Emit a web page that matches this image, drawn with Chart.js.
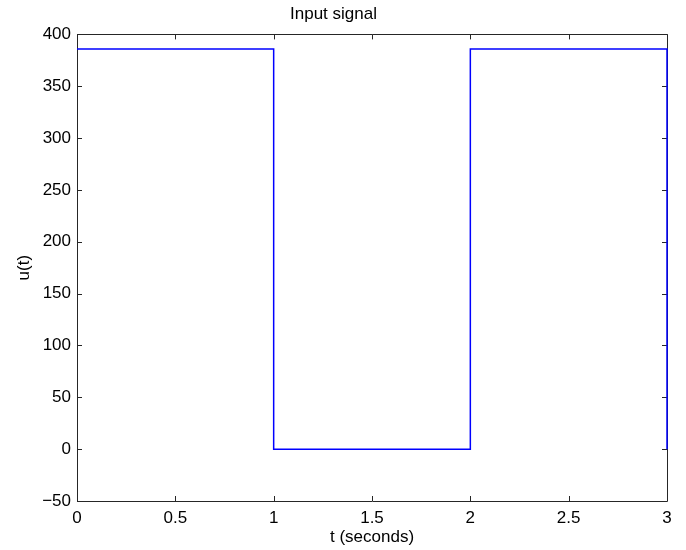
<!DOCTYPE html>
<html>
<head>
<meta charset="utf-8">
<script src="https://cdn.jsdelivr.net/npm/chart.js@4/dist/chart.umd.min.js"></script>
<style>
html,body{margin:0;padding:0;background:#fff;}
#wrap{width:686px;height:550px;position:relative;}
</style>
</head>
<body>
<div id="wrap"><canvas id="c" width="686" height="550"></canvas></div>
<script>
// Data (step signal)
const tValues = [0, 1, 1, 2, 2, 3, 3];
const uValues = [386, 386, 0, 0, 386, 386, 0];
const xTickValues = [0, 0.5, 1, 1.5, 2, 2.5, 3];
const xTickLabels = ['0', '0.5', '1', '1.5', '2', '2.5', '3'];
const yTickValues = [-50, 0, 50, 100, 150, 200, 250, 300, 350, 400];
const yTickLabels = ['\u221250', '0', '50', '100', '150', '200', '250', '300', '350', '400'];

const points = tValues.map((t, i) => ({x: t, y: uValues[i]}));
const FONT = 'Liberation Sans, Arial, Helvetica, sans-serif';
const AX = '#262626';

const boxTicks = {
  id: 'boxTicks',
  beforeDatasetsDraw(chart) {
    const {ctx, chartArea: a, scales: {x, y}} = chart;
    ctx.save();
    ctx.strokeStyle = AX;
    ctx.lineWidth = 1;
    ctx.beginPath();
    ctx.rect(Math.round(a.left) + 0.5, Math.round(a.top) + 0.5, Math.round(a.right - a.left), Math.round(a.bottom - a.top));
    ctx.stroke();
    const L = 5;
    ctx.beginPath();
    xTickValues.forEach(v => {
      const px = Math.round(x.getPixelForValue(v)) + 0.5;
      ctx.moveTo(px, a.bottom); ctx.lineTo(px, a.bottom - L);
      ctx.moveTo(px, a.top); ctx.lineTo(px, a.top + L);
    });
    yTickValues.forEach(v => {
      const py = Math.round(y.getPixelForValue(v)) + 0.5;
      ctx.moveTo(a.left, py); ctx.lineTo(a.left + L, py);
      ctx.moveTo(a.right, py); ctx.lineTo(a.right - L, py);
    });
    ctx.stroke();
    ctx.restore();
  }
};

new Chart(document.getElementById('c'), {
  type: 'scatter',
  data: {
    datasets: [{
      data: points,
      showLine: true,
      borderColor: '#0000ff',
      borderWidth: 1.5,
      pointRadius: 0,
      fill: false,
      clip: false,
      tension: 0
    }]
  },
  options: {
    responsive: false,
    animation: false,
    devicePixelRatio: 1,
    layout: {padding: {left: 0, right: 19, top: 0, bottom: 0}},
    plugins: {
      legend: {display: false},
      tooltip: {enabled: false},
      title: {
        display: true,
        text: 'Input signal',
        color: '#000',
        font: {family: FONT, size: 17, weight: 'normal'},
        padding: {top: 4, bottom: 10}
      }
    },
    scales: {
      x: {
        type: 'linear',
        min: 0, max: 3,
        afterFit(s) { s.height = 49; },
        afterBuildTicks(s) { s.ticks = xTickValues.map(v => ({value: v})); },
        ticks: {
          color: '#000',
          font: {family: FONT, size: 17},
          padding: 7,
          maxRotation: 0,
          callback: (v) => xTickLabels[xTickValues.indexOf(v)]
        },
        grid: {display: true, drawOnChartArea: false, drawTicks: false},
        border: {display: false},
        title: {
          display: true,
          text: 't (seconds)',
          color: '#000',
          font: {family: FONT, size: 17},
          padding: {top: 0, bottom: 2}
        }
      },
      y: {
        type: 'linear',
        min: -50, max: 400,
        afterFit(s) { s.width = 77; },
        afterBuildTicks(s) { s.ticks = yTickValues.map(v => ({value: v})); },
        ticks: {
          color: '#000',
          font: {family: FONT, size: 17},
          padding: 6,
          callback: (v) => yTickLabels[yTickValues.indexOf(v)]
        },
        grid: {display: true, drawOnChartArea: false, drawTicks: false},
        border: {display: false},
        title: {
          display: true,
          text: 'u(t)',
          color: '#000',
          font: {family: FONT, size: 17},
          padding: {top: 14, bottom: 0}
        }
      }
    }
  },
  plugins: [boxTicks]
});
</script>
</body>
</html>
